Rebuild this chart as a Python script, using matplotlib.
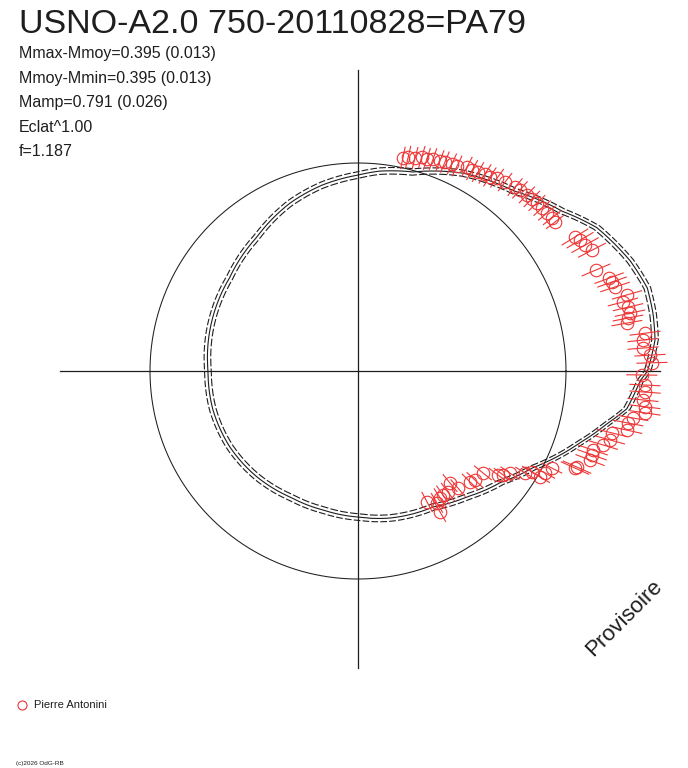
import numpy as np
import matplotlib
matplotlib.use('Agg')
import matplotlib.pyplot as plt
from matplotlib.lines import Line2D

plt.rcParams['font.family'] = ['Liberation Sans', 'DejaVu Sans']

# fitted light curve in polar form (phase angle deg, radius; reference circle = 1)
curve_theta = [0, 6, 11, 16, 22, 31, 38, 49, 62, 74.5, 84, 90, 101, 112, 127,
               144, 160, 180, 195, 211, 226, 242, 256, 270, 282, 299, 311,
               322, 331, 335, 342, 348, 352, 358, 360]
curve_r = [1.392, 1.436, 1.445, 1.447, 1.412, 1.339, 1.247, 1.146, 1.077, 0.993,
           0.966, 0.942, 0.910, 0.871, 0.807, 0.763, 0.744, 0.721, 0.722, 0.716,
           0.704, 0.688, 0.689, 0.702, 0.723, 0.747, 0.801, 0.870, 0.960, 1.017,
           1.120, 1.223, 1.305, 1.357, 1.392]
curve_sigma = 0.016

# measurements, three groups
top_theta = [78.1, 76.8, 75.0, 73.4, 72.0, 70.5, 68.7, 67.4, 65.6, 64.2, 61.9, 60.4,
             58.9, 57.2, 55.8, 54.2, 52.1, 49.5, 48.2, 46.2, 44.7, 43.2, 41.5, 39.9,
             38.3, 37.1]
top_r = [1.047, 1.057, 1.060, 1.074, 1.072, 1.081, 1.084, 1.088, 1.093, 1.095, 1.112,
         1.111, 1.117, 1.127, 1.128, 1.143, 1.151, 1.163, 1.168, 1.173, 1.176, 1.180,
         1.182, 1.184, 1.188, 1.188]
top_err = 0.055

right_theta = [31.7, 30.5, 29.0, 27.3, 23.0, 20.3, 19.3, 18.1, 15.8, 14.6, 13.3, 12.0,
               11.1, 10.1, 7.5, 6.2, 4.6, 3.1, 1.6, -0.8, -2.8, -4.2, -5.8, -7.1,
               -8.3, -9.7, -10.9, -12.4, -13.7, -15.3, -16.8, -18.6, -19.7, -21.0,
               -23.7, -24.1]
right_r = [1.226, 1.239, 1.248, 1.266, 1.243, 1.287, 1.294, 1.300, 1.344, 1.316, 1.334,
           1.337, 1.323, 1.313, 1.392, 1.378, 1.375, 1.406, 1.414, 1.365, 1.381, 1.384,
           1.377, 1.390, 1.395, 1.341, 1.322, 1.324, 1.257, 1.256, 1.230, 1.192, 1.195,
           1.195, 1.150, 1.143]
right_err = 0.075

bottom_theta = [-26.6, -28.6, -30.2, -30.1, -31.4, -33.9, -35.6, -36.6, -39.2, -43.0,
                -44.7, -49.5, -50.6, -53.4, -55.6, -57.1, -59.1, -62.2, -59.8]
bottom_r = [1.043, 1.024, 1.013, 0.967, 0.941, 0.880, 0.858, 0.838, 0.775, 0.769,
            0.758, 0.740, 0.697, 0.725, 0.723, 0.727, 0.739, 0.712, 0.784]
bottom_err = 0.055

red = '#ee3636'
ink = '#1e1e1e'

W, H = 688, 768
fig = plt.figure(figsize=(W / 100, H / 100), dpi=100)
cx, cy, half = 358, 371, 312
ax = fig.add_axes([(cx - half) / W, (H - cy - half) / H, 2 * half / W, 2 * half / H],
                  projection='polar')
ax.set_rlim(0, 1.5)
ax.set_axis_off()

# cross and reference circle
ax.plot([np.pi, np.pi], [0, 1.433], color=ink, lw=0.9)
ax.plot([0, 0], [0, 1.452], color=ink, lw=0.9)
ax.plot([np.pi / 2, np.pi / 2], [0, 1.447], color=ink, lw=0.9)
ax.plot([-np.pi / 2, -np.pi / 2], [0, 1.428], color=ink, lw=0.9)
circ = np.linspace(0, 2 * np.pi, 400)
ax.plot(circ, np.ones_like(circ), color=ink, lw=0.75)

# fit and its envelope; let the polar transform bend segments between points
th = np.radians(curve_theta)
cr = np.array(curve_r)
fit_lines = []
fit_lines += ax.plot(th, cr, color=ink, lw=0.8)
fit_lines += ax.plot(th, cr + curve_sigma, color=ink, lw=0.8, dashes=(6, 2))
fit_lines += ax.plot(th, cr - curve_sigma, color=ink, lw=0.8, dashes=(7, 2))
for ln in fit_lines:
    ln.get_path()._interpolation_steps = 24

for t, r, e in [(top_theta, top_r, top_err), (right_theta, right_r, right_err),
                (bottom_theta, bottom_r, bottom_err)]:
    ax.errorbar(np.radians(t), r, yerr=e, fmt='o', ms=9, mfc='none', mec=red,
                mew=0.8, ecolor=red, elinewidth=0.8, capsize=0, clip_on=False)

# texts
fig.text(19 / W, 1 - 33 / H, 'USNO-A2.0 750-20110828=PA79', fontsize=24.5,
         color=ink, va='baseline', ha='left')
info = ['Mmax-Mmoy=0.395 (0.013)', 'Mmoy-Mmin=0.395 (0.013)', 'Mamp=0.791 (0.026)',
        'Eclat^1.00', 'f=1.187']
for i, s in enumerate(info):
    fig.text(19 / W, 1 - (58 + 24.6 * i) / H, s, fontsize=11.5, color=ink,
             va='baseline', ha='left')

fig.text(624 / W, 1 - 618 / H, 'Provisoire', fontsize=16, rotation=45,
         ha='center', va='center', color=ink)

fig.add_artist(Line2D([22 / W], [1 - 705 / H], transform=fig.transFigure,
                      marker='o', ms=6.5, mfc='none', mec=red, mew=0.8, ls='none'))
fig.text(34 / W, 1 - 705 / H, 'Pierre Antonini', fontsize=8, color=ink,
         va='center', ha='left')
fig.text(16 / W, 1 - 763 / H, '(c)2026 OdG-RB', fontsize=4.6, color=ink,
         va='center', ha='left')

fig.savefig('out.png', dpi=100)
